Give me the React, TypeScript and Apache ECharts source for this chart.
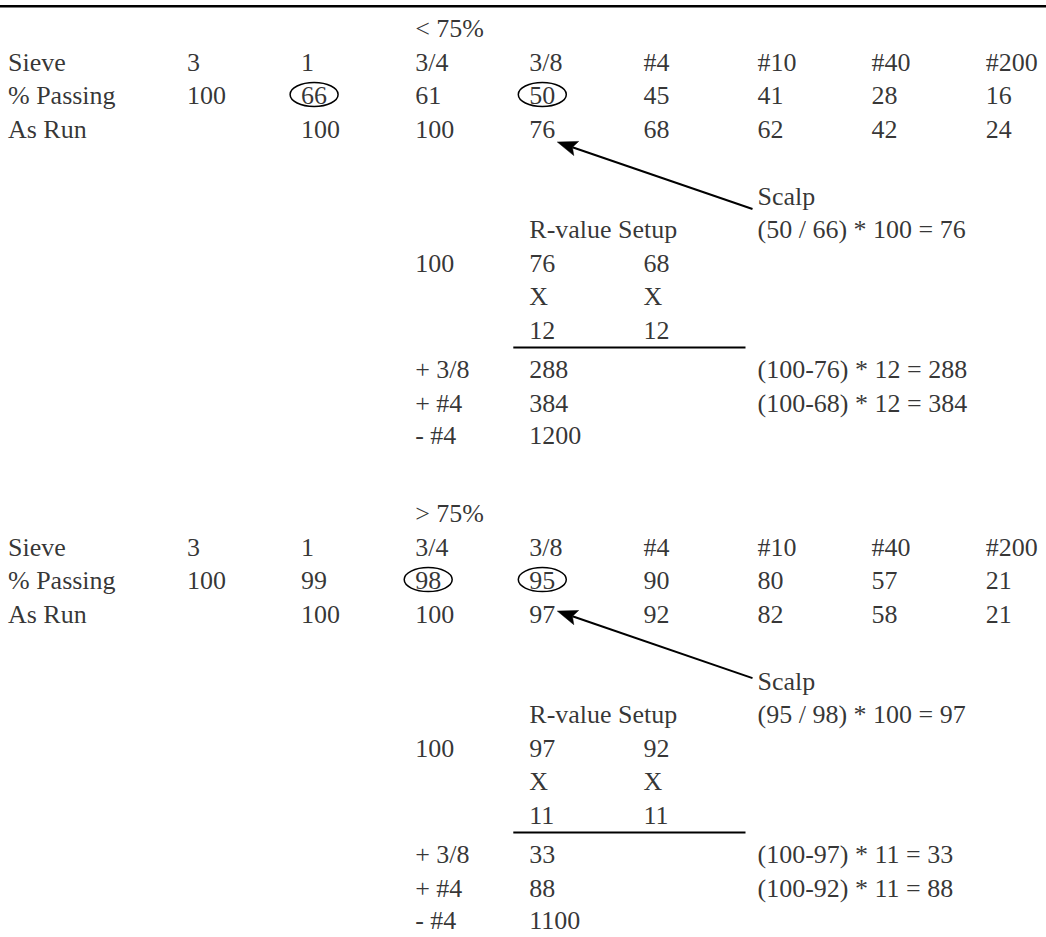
import React, { useEffect, useRef } from "react";
import * as echarts from "echarts";

// ---------- data ----------
const SIEVES = ["3", "1", "3/4", "3/8", "#4", "#10", "#40", "#200"];
const ROW_LABELS = ["Sieve", "% Passing", "As Run"];
const HEADERS = ["< 75%", "> 75%"];
const PASSING_LOW = ["100", "66", "61", "50", "45", "41", "28", "16"];
const PASSING_HIGH = ["100", "99", "98", "95", "90", "80", "57", "21"];
const AS_RUN_LOW = ["", "100", "100", "76", "68", "62", "42", "24"];
const AS_RUN_HIGH = ["", "100", "100", "97", "92", "82", "58", "21"];
const CIRCLED_LOW = [1, 3];
const CIRCLED_HIGH = [2, 3];
const SCALP_LABEL = "Scalp";
const SCALP_FORMULA = ["(50 / 66) * 100 = 76", "(95 / 98) * 100 = 97"];
const SETUP_TITLE = "R-value Setup";
const SETUP_BASE = "100";
const SETUP_VALUES_LOW = ["76", "68"];
const SETUP_VALUES_HIGH = ["97", "92"];
const SETUP_TIMES = ["X", "X"];
const SETUP_FACTOR_LOW = ["12", "12"];
const SETUP_FACTOR_HIGH = ["11", "11"];
const RETAINED_LABELS = ["+ 3/8", "+ #4", "- #4"];
const RETAINED_LOW = ["288", "384", "1200"];
const RETAINED_HIGH = ["33", "88", "1100"];
const RETAINED_FORMULAS_LOW = ["(100-76) * 12 = 288", "(100-68) * 12 = 384"];
const RETAINED_FORMULAS_HIGH = ["(100-97) * 11 = 33", "(100-92) * 11 = 88"];

// ---------- layout (column / row units of the table) ----------
const LABEL_COL = -1.569;
const COL_SETUP_BASE = 2; // 3/4 column
const COL_SETUP_A = 3; // 3/8 column
const COL_SETUP_B = 4; // #4 column
const COL_NOTE = 5; // #10 column
const ROW = {
  header: 0,
  sieve: 1,
  passing: 2,
  asRun: 3,
  scalp: 5,
  setupTitle: 6,
  setup: 7,
  times: 8,
  factor: 9,
  rule: 9.52,
  retained: [10.18, 11.19, 12.15],
};
const BLOCK_OFFSET = [0, 14.48];
const ARROW_DY = [13, -3];

const COL_PX = 114.1;
const COL0_PX = 187;
const ROW_PX = 33.5;
const ROW0_PX = 28.5;
const W = 1046;
const H = 937;

type Cell = { value: [number, number]; t: string };

function buildBlock(
  b: number,
  passing: string[],
  asRun: string[],
  setupVals: string[],
  factors: string[],
  retained: string[],
  formulas: string[]
): Cell[] {
  const o = BLOCK_OFFSET[b];
  const cells: Cell[] = [];
  const add = (x: number, y: number, t: string) => {
    if (t !== "") cells.push({ value: [x, y + o], t });
  };
  add(COL_SETUP_BASE, ROW.header, HEADERS[b]);
  add(LABEL_COL, ROW.sieve, ROW_LABELS[0]);
  add(LABEL_COL, ROW.passing, ROW_LABELS[1]);
  add(LABEL_COL, ROW.asRun, ROW_LABELS[2]);
  SIEVES.forEach((s, k) => add(k, ROW.sieve, s));
  passing.forEach((s, k) => add(k, ROW.passing, s));
  asRun.forEach((s, k) => add(k, ROW.asRun, s));
  add(COL_NOTE, ROW.scalp, SCALP_LABEL);
  add(COL_NOTE, ROW.setupTitle, SCALP_FORMULA[b]);
  add(COL_SETUP_A, ROW.setupTitle, SETUP_TITLE);
  add(COL_SETUP_BASE, ROW.setup, SETUP_BASE);
  add(COL_SETUP_A, ROW.setup, setupVals[0]);
  add(COL_SETUP_B, ROW.setup, setupVals[1]);
  add(COL_SETUP_A, ROW.times, SETUP_TIMES[0]);
  add(COL_SETUP_B, ROW.times, SETUP_TIMES[1]);
  add(COL_SETUP_A, ROW.factor, factors[0]);
  add(COL_SETUP_B, ROW.factor, factors[1]);
  RETAINED_LABELS.forEach((l, i) => {
    add(COL_SETUP_BASE, ROW.retained[i], l);
    add(COL_SETUP_A, ROW.retained[i], retained[i]);
    if (formulas[i]) add(COL_NOTE, ROW.retained[i], formulas[i]);
  });
  return cells;
}

const FONT = "Liberation Serif";

export default function App() {
  const ref = useRef<HTMLDivElement>(null);
  useEffect(() => {
    if (!ref.current) return;
    const chart = echarts.init(ref.current, undefined, { renderer: "svg" });

    const cells = [
      ...buildBlock(0, PASSING_LOW, AS_RUN_LOW, SETUP_VALUES_LOW, SETUP_FACTOR_LOW, RETAINED_LOW, RETAINED_FORMULAS_LOW),
      ...buildBlock(1, PASSING_HIGH, AS_RUN_HIGH, SETUP_VALUES_HIGH, SETUP_FACTOR_HIGH, RETAINED_HIGH, RETAINED_FORMULAS_HIGH),
    ];
    const circles = [
      ...CIRCLED_LOW.map((c) => [c, ROW.passing + BLOCK_OFFSET[0]]),
      ...CIRCLED_HIGH.map((c) => [c, ROW.passing + BLOCK_OFFSET[1]]),
    ];
    const rules = BLOCK_OFFSET.map((o) => [COL_SETUP_A, ROW.rule + o, COL_NOTE]);
    const arrows = BLOCK_OFFSET.map((o) => [COL_NOTE, ROW.scalp + o, COL_SETUP_A, ROW.asRun + o]);

    chart.setOption({
      animation: false,
      backgroundColor: "#ffffff",
      grid: { left: 0, right: 0, top: 0, bottom: 0, containLabel: false },
      xAxis: {
        type: "value",
        min: -COL0_PX / COL_PX,
        max: (W - COL0_PX) / COL_PX,
        show: false,
        splitLine: { show: false },
      },
      yAxis: {
        type: "value",
        inverse: true,
        min: -ROW0_PX / ROW_PX,
        max: (H - ROW0_PX) / ROW_PX,
        show: false,
        splitLine: { show: false },
      },
      graphic: [
        {
          type: "rect",
          shape: { x: 0, y: 5, width: W, height: 2.5 },
          style: { fill: "#000" },
          silent: true,
        },
      ],
      series: [
        {
          type: "scatter",
          data: cells,
          symbolSize: 0,
          silent: true,
          clip: false,
          itemStyle: { color: "#000" },
          label: {
            show: true,
            position: "inside",
            align: "left",
            verticalAlign: "middle",
            fontFamily: FONT,
            fontSize: 26,
            color: "#000",
            formatter: (p: any) => p.data.t,
          },
        },
        {
          type: "custom",
          silent: true,
          clip: false,
          data: circles,
          renderItem: (_params: any, api: any) => {
            const p = api.coord([api.value(0), api.value(1)]);
            return {
              type: "ellipse",
              shape: { cx: p[0] + 13, cy: p[1] - 1, rx: 24, ry: 12 },
              style: { fill: "none", stroke: "#000", lineWidth: 1.5 },
            };
          },
        },
        {
          type: "custom",
          silent: true,
          clip: false,
          data: rules,
          encode: { x: [0, 2], y: 1 },
          renderItem: (_params: any, api: any) => {
            const a = api.coord([api.value(0), api.value(1)]);
            const b = api.coord([api.value(2), api.value(1)]);
            return {
              type: "line",
              shape: { x1: a[0] - 16, y1: a[1], x2: b[0] - 12, y2: a[1] },
              style: { stroke: "#000", lineWidth: 2 },
            };
          },
        },
        {
          type: "custom",
          silent: true,
          clip: false,
          data: arrows,
          encode: { x: [0, 2], y: [1, 3] },
          renderItem: (params: any, api: any) => {
            const dy = ARROW_DY[params.dataIndex];
            const t = api.coord([api.value(0), api.value(1)]);
            const h = api.coord([api.value(2), api.value(3)]);
            const tail = [t[0] - 5, t[1] + dy];
            const head = [h[0] + 28, h[1] + dy];
            const dx = head[0] - tail[0];
            const dyv = head[1] - tail[1];
            const len = Math.sqrt(dx * dx + dyv * dyv);
            const ux = dx / len;
            const uy = dyv / len;
            const L = 20;
            const HW = 7.5;
            const bx = head[0] - ux * L;
            const by = head[1] - uy * L;
            const nx = bx + ux * 4;
            const ny = by + uy * 4;
            return {
              type: "group",
              children: [
                {
                  type: "line",
                  shape: { x1: tail[0], y1: tail[1], x2: nx, y2: ny },
                  style: { stroke: "#000", lineWidth: 2 },
                },
                {
                  type: "polygon",
                  shape: {
                    points: [
                      [head[0], head[1]],
                      [bx - uy * HW, by + ux * HW],
                      [nx, ny],
                      [bx + uy * HW, by - ux * HW],
                    ],
                  },
                  style: { fill: "#000", stroke: "#000", lineWidth: 0.5 },
                },
              ],
            };
          },
        },
      ],
    });
    return () => chart.dispose();
  }, []);

  return (
    <div
      ref={ref}
      style={{ position: "fixed", left: 0, top: 0, width: W, height: H, background: "#fff" }}
    />
  );
}
